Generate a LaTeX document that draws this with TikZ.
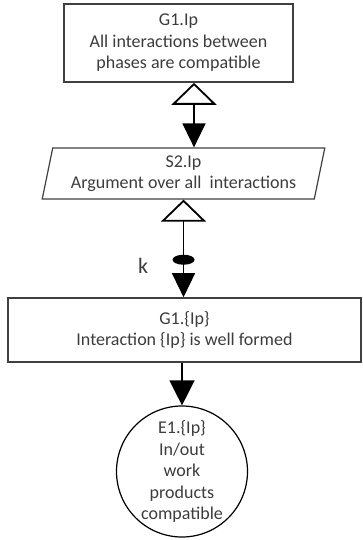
\documentclass[tikz,border=0pt]{standalone}
\usepackage{fontspec}
\setmainfont{Carlito}
\usepackage{tikz}
\usetikzlibrary{
	arrows.meta,
	shapes.geometric,
	positioning
}
\definecolor{LineGray}{RGB}{64,64,64}
\definecolor{TextGray}{RGB}{60,60,60}

\tikzset{
	goalbox/.style={draw=LineGray, line width=1.6pt, rectangle, align=center, inner sep=0pt, text=TextGray},
	strategybox/.style={draw=LineGray, line width=1.2pt, trapezium, trapezium left angle=76, trapezium right angle=104, trapezium stretches=true, align=center, inner sep=0pt, text=TextGray},
	evidence/.style={draw=black, line width=1.2pt, circle, align=center, inner sep=0pt, minimum size=131pt, text=TextGray},
	support/.style={line width=1.4pt, {Triangle[open, length=22pt, width=45pt, line width=1.8pt]}-{Triangle[length=24pt, width=23pt]}},
	solved/.style={line width=1.4pt, -{Triangle[length=25pt, width=25pt]}},
	multi/.style={fill=black, ellipse, minimum width=22pt, minimum height=10pt, inner sep=0pt}
}

\begin{document}
\begin{tikzpicture}[x=1pt, y=-1pt, font=\fontsize{18}{21.5}\selectfont]
		\useasboundingbox (0,0) rectangle (362,540);
		
		% goal, strategy, subgoal, solution
		\node[goalbox, minimum width=229pt, minimum height=78pt] (g1) at (178.5,43) {G1.Ip\\All interactions between\\phases are compatible};
		\node[strategybox, minimum width=283pt, minimum height=51pt] (s2) at (183.5,173.5) {S2.Ip\\Argument over all\ \ interactions};
		\node[goalbox, minimum width=353pt, minimum height=64pt] (g1ip) at (184.5,330) {G1.\{Ip\}\\Interaction \{Ip\} is well formed};
		\node[evidence] (e1) at (182,471.5) {E1.\{Ip\}\\In/out\\work\\products\\compatible};
		
		\coordinate (a1) at (194,0);
		
		\draw[support] (g1.south -| a1) -- (s2.north -| a1);
		\draw[support] (s2.south) -- (s2.south |- g1ip.north)
			node[multi, pos=0.616] (mk) {};
		\node[font=\fontsize{22}{24}\selectfont, text=TextGray] (klabel) at (143,266) {k};
		\draw[solved] (g1ip.south -| e1.north) -- (e1.north);
	\end{tikzpicture}
\end{document}
